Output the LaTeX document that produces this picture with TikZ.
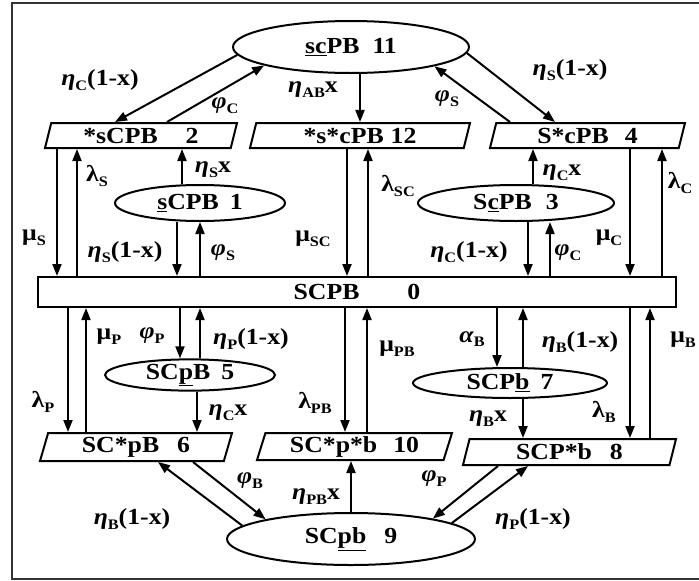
\documentclass[tikz,border=0pt]{standalone}
\usepackage{fontspec}
\setmainfont{Liberation Serif}[FakeStretch=1.12]
\usetikzlibrary{shapes.geometric,arrows.meta}
\newcommand{\et}{\textbf{\textit{η}}}
\newcommand{\ph}{\textbf{\textit{φ}}}
\newcommand{\mymu}{\textbf{μ}}
\newcommand{\mylam}{\textbf{λ}}
\newcommand{\myal}{\textbf{\textit{α}}}
\newcommand{\sbs}[1]{\raisebox{-0.45ex}{\fontsize{14.5}{14.5}\selectfont\bfseries #1}}
\newcommand{\gap}[1]{\hspace*{#1pt}}
\tikzset{
  every node/.style={font=\bfseries\fontsize{23}{26}\selectfont},
  ell/.style={ellipse, draw, line width=2pt, inner sep=0pt},
  para/.style={trapezium, trapezium left angle=68, trapezium right angle=112,
    trapezium stretches body, draw, line width=2pt, inner sep=0pt},
  arr/.style={-{Triangle[length=12pt,width=9pt]}, line width=2pt},
  lab/.style={font=\bfseries\fontsize{23}{26}\selectfont, inner sep=0pt},
}
\begin{document}
\begin{tikzpicture}[x=1pt,y=-1pt]
\useasboundingbox (0,0) rectangle (699,581);
\draw[line width=2pt, black!80] (699,3) -- (12,3) -- (12,579) -- (699,579);

% nodes
\node[ell, minimum width=236pt, minimum height=52pt] (n11) at (351,47) {\underline{sc}PB\gap{13}11};
\node[para, minimum width=192pt, minimum height=25pt] (n2) at (141,135.5) {*sCPB\gap{28}2};
\node[para, minimum width=220pt, minimum height=25pt] (n12) at (360,135.5) {*s*cPB\gap{7}12};
\node[para, minimum width=195pt, minimum height=25pt] (n4) at (587.5,135.5) {S*cPB\gap{16}4};
\node[ell, minimum width=170pt, minimum height=36pt] (n1) at (200,203) {\underline{s}CPB\gap{11}1};
\node[ell, minimum width=196pt, minimum height=36pt] (n3) at (516,203) {S\underline{c}PB\gap{14}3};
\node[draw, rectangle, line width=2pt, minimum width=638pt, minimum height=30pt, inner sep=0pt] (n0) at (357,292) {SCPB\gap{48}0};
\node[ell, minimum width=170pt, minimum height=28pt] (n5) at (190,375) {SC\underline{p}B\gap{11}5};
\node[ell, minimum width=194pt, minimum height=30pt] (n7) at (510,383) {SCP\underline{b}\gap{11}7};
\node[para, minimum width=192pt, minimum height=28pt] (n6) at (136,447) {SC*pB\gap{18}6};
\node[para, minimum width=195pt, minimum height=27pt] (n10) at (354.5,446.5) {SC*p*b\gap{16}10};
\node[para, minimum width=213pt, minimum height=26pt] (n8) at (569.5,452) {SCP*b\gap{18}8};
\node[ell, minimum width=248pt, minimum height=52pt] (n9) at (351,539) {SC\underline{pb}\gap{18}9};

% top diagonal and vertical arrows
\draw[arr] (n11.184) -- (n2.north -| 115,0);
\draw[arr] (n2.north -| 167,0) -- (n11.192);
\draw[arr] (n11.south -| 360,0) -- (n12.north -| 360,0);
\draw[arr] (n4.north -| 510,0) -- (n11.347);
\draw[arr] (n11.357) -- (n4.north -| 555,0);

\draw[arr] (n2.south -| 57,0) -- (n0.north -| 57,0);
\draw[arr] (n0.north -| 77,0) -- (n2.south -| 77,0);
\draw[arr] (n1.north -| 182,0) -- (n2.south -| 182,0);
\draw[arr] (n1.south -| 177,0) -- (n0.north -| 177,0);
\draw[arr] (n0.north -| 200,0) -- (n1.south -| 200,0);
\draw[arr] (n12.south -| 347,0) -- (n0.north -| 347,0);
\draw[arr] (n0.north -| 368,0) -- (n12.south -| 368,0);
\draw[arr] (n3.north -| 533,0) -- (n4.south -| 533,0);
\draw[arr] (n3.south -| 528,0) -- (n0.north -| 528,0);
\draw[arr] (n0.north -| 550,0) -- (n3.south -| 550,0);
\draw[arr] (n4.south -| 630,0) -- (n0.north -| 630,0);
\draw[arr] (n0.north -| 662,0) -- (n4.south -| 662,0);

% bottom arrows
\draw[arr] (n0.south -| 68,0) -- (n6.north -| 68,0);
\draw[arr] (n6.north -| 86,0) -- (n0.south -| 86,0);
\draw[arr] (n0.south -| 180,0) -- (n5.north -| 180,0);
\draw[arr] (n5.north -| 200,0) -- (n0.south -| 200,0);
\draw[arr] (n5.south -| 197,0) -- (n6.north -| 197,0);
\draw[arr] (n0.south -| 345,0) -- (n10.north -| 345,0);
\draw[arr] (n10.north -| 367,0) -- (n0.south -| 367,0);
\draw[arr] (n0.south -| 497,0) -- (n7.north -| 497,0);
\draw[arr] (n7.north -| 523,0) -- (n0.south -| 523,0);
\draw[arr] (n7.south -| 523,0) -- (n8.north -| 523,0);
\draw[arr] (n0.south -| 630,0) -- (n8.north -| 630,0);
\draw[arr] (n8.north -| 650,0) -- (n0.south -| 650,0);
\draw[arr] (n9.north -| 351,0) -- (n10.south -| 351,0);
\draw[arr] (n6.south -| 193,0) -- (n9.167);
\draw[arr] (n9.173) -- (n6.south -| 158,0);
\draw[arr] (n8.south -| 498,0) -- (n9.14);
\draw[arr] (n9.9) -- (n8.south -| 528,0);

% labels
\node[lab] (l1) at (100,80) {\et\sbs{C}(1-x)};
\node[lab] (l2) at (225,106) {\ph\sbs{C}};
\node[lab] (l3) at (313,90) {\et\sbs{AB}x};
\node[lab] (l4) at (447,99) {\ph\sbs{S}};
\node[lab] (l5) at (570,70) {\et\sbs{S}(1-x)};
\node[lab] (l6) at (97,176) {\mylam\sbs{S}};
\node[lab] (l7) at (213,170) {\et\sbs{S}x};
\node[lab] (l8) at (34,238) {\mymu\sbs{S}};
\node[lab] (l9) at (125,252) {\et\sbs{S}(1-x)};
\node[lab] (l10) at (223,253) {\ph\sbs{S}};
\node[lab] (l11) at (313,239) {\mymu\sbs{SC}};
\node[lab] (l12) at (398,186) {\mylam\sbs{SC}};
\node[lab] (l13) at (562,173) {\et\sbs{C}x};
\node[lab] (l14) at (680,183) {\mylam\sbs{C}};
\node[lab] (l15) at (609,238) {\mymu\sbs{C}};
\node[lab] (l16) at (469,252) {\et\sbs{C}(1-x)};
\node[lab] (l17) at (568,253) {\ph\sbs{C}};
\node[lab] (l18) at (109,337) {\mymu\sbs{P}};
\node[lab] (l19) at (152,336) {\ph\sbs{P}};
\node[lab] (l20) at (251,339) {\et\sbs{P}(1-x)};
\node[lab] (l21) at (397,349) {\mymu\sbs{PB}};
\node[lab] (l22) at (472,339) {\myal\sbs{B}};
\node[lab] (l23) at (580,342) {\et\sbs{B}(1-x)};
\node[lab] (l24) at (683,340) {\mymu\sbs{B}};
\node[lab] (l25) at (43,402) {\mylam\sbs{P}};
\node[lab] (l26) at (228,413) {\et\sbs{C}x};
\node[lab] (l27) at (315,403) {\mylam\sbs{PB}};
\node[lab] (l28) at (250,481) {\ph\sbs{B}};
\node[lab] (l29) at (132,519) {\et\sbs{B}(1-x)};
\node[lab] (l30) at (488,419) {\et\sbs{B}x};
\node[lab] (l31) at (604,412) {\mylam\sbs{B}};
\node[lab] (l32) at (434,479) {\ph\sbs{P}};
\node[lab] (l33) at (533,519) {\et\sbs{P}(1-x)};
\node[lab] (l34) at (316,497) {\et\sbs{PB}x};
\end{tikzpicture}
\end{document}
